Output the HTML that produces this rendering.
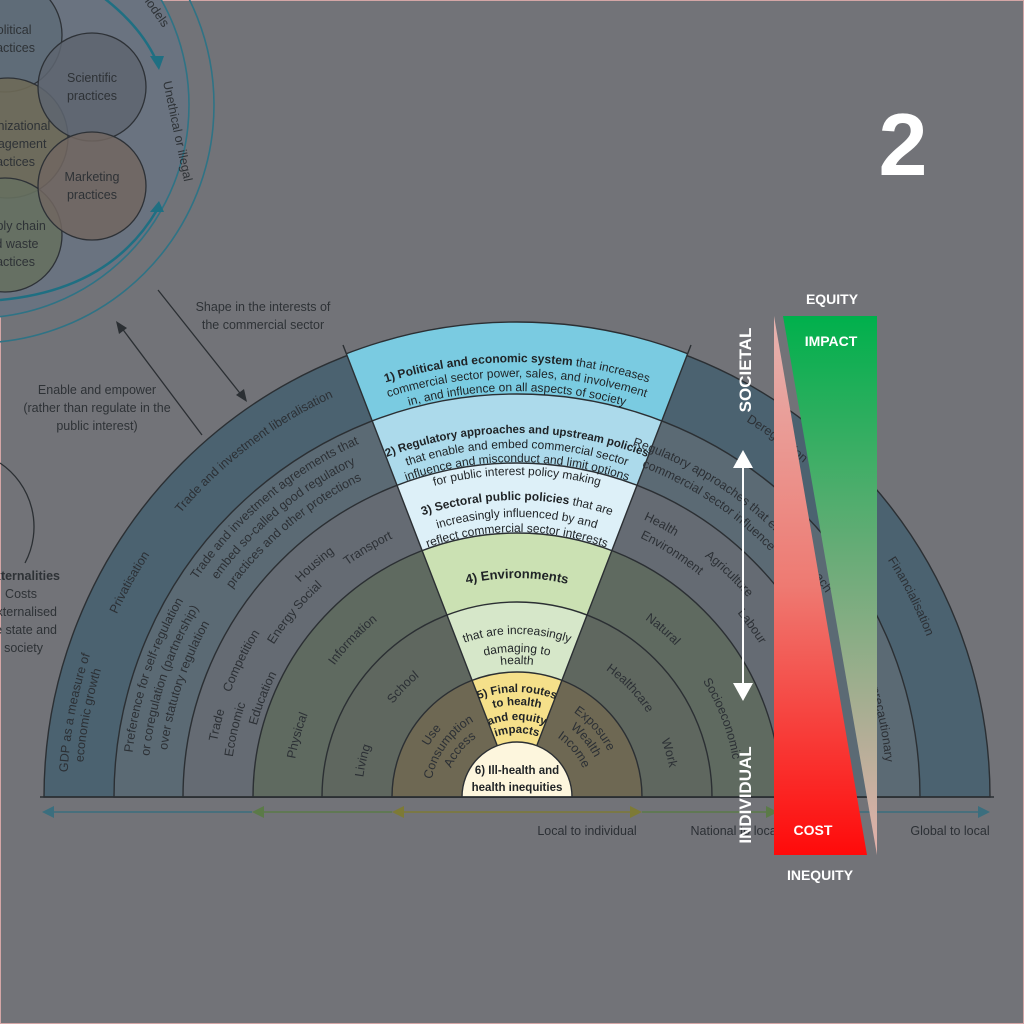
<!DOCTYPE html>
<html><head><meta charset="utf-8"><style>
html,body{margin:0;padding:0;background:#727378;width:1024px;height:1024px;overflow:hidden;}
svg{display:block;}
text{font-family:"Liberation Sans",sans-serif;}
</style></head><body>
<svg width="1024" height="1024" viewBox="0 0 1024 1024" xmlns="http://www.w3.org/2000/svg">
<defs>
<linearGradient id="gg" x1="0" y1="0" x2="0" y2="1"><stop offset="0" stop-color="#00b04c"/><stop offset="0.45" stop-color="#6aac78"/><stop offset="1" stop-color="#e3b0ab"/></linearGradient>
<linearGradient id="rg" x1="0" y1="0" x2="0" y2="1"><stop offset="0" stop-color="#e6b4b0"/><stop offset="0.5" stop-color="#ee7a72"/><stop offset="1" stop-color="#ff0a0a"/></linearGradient>
<clipPath id="wedge"><path d="M517,797 L343,345 A490 490 0 0 1 691,345 Z"/></clipPath>
</defs>
<rect x="0" y="0" width="1024" height="1024" fill="#727378" stroke="#d4a6a6" stroke-width="2"/>

<!-- top-left circles -->
<circle cx="-24" cy="105" r="238" fill="none" stroke="#2f7385" stroke-width="1.6"/>
<circle cx="-24" cy="105" r="213" fill="#6a7380" stroke="#2f7385" stroke-width="1.6"/>
<path d="M100,-5 Q140,25 156,60" fill="none" stroke="#1f6f82" stroke-width="2.5"/>
<polygon points="150,56 164,56 159,70" fill="#1f6f82"/>
<path d="M157,210 Q110,290 0,300" fill="none" stroke="#1f6f82" stroke-width="2.5"/>
<polygon points="150,212 164,212 159,201" fill="#1f6f82"/>
<circle cx="5" cy="35" r="57" fill="#5f6c78" stroke="#2d3136" stroke-width="1.3"/>
<circle cx="8" cy="138" r="60" fill="#6e6a58" fill-opacity="0.9" stroke="#2d3136" stroke-width="1.3"/>
<circle cx="5" cy="235" r="57" fill="#66705f" fill-opacity="0.9" stroke="#2d3136" stroke-width="1.3"/>
<circle cx="92" cy="87" r="54" fill="#5e6570" fill-opacity="0.85" stroke="#2d3136" stroke-width="1.3"/>
<circle cx="92" cy="186" r="54" fill="#716660" fill-opacity="0.85" stroke="#2d3136" stroke-width="1.3"/>
<g font-size="12.5" fill="#2e3236" text-anchor="middle">
<text x="92" y="82">Scientific</text><text x="92" y="100">practices</text>
<text x="92" y="181">Marketing</text><text x="92" y="199">practices</text>
<text x="10" y="34">Political</text><text x="10" y="52">practices</text>
<text x="10" y="130">Organizational</text><text x="10" y="148">management</text><text x="10" y="166">practices</text>
<text x="10" y="230">Supply chain</text><text x="10" y="248">and waste</text><text x="10" y="266">practices</text>
</g>
<text font-size="12.5" fill="#2e3236" transform="translate(163,82) rotate(78)">Unethical or illegal</text>
<text font-size="12.5" fill="#2e3236" transform="translate(140,-5) rotate(55)">models</text>

<!-- connectors -->
<line x1="158" y1="290" x2="243" y2="397" stroke="#2b2f33" stroke-width="1.3"/>
<polygon points="247,402 236,395 244,389" fill="#2b2f33"/>
<line x1="202" y1="435" x2="121" y2="327" stroke="#2b2f33" stroke-width="1.3"/>
<polygon points="116,321 127,328 119,334" fill="#2b2f33"/>
<g font-size="12.5" fill="#2e3236" text-anchor="middle">
<text x="263" y="311">Shape in the interests of</text><text x="263" y="329">the commercial sector</text>
<text x="97" y="394">Enable and empower</text><text x="97" y="412">(rather than regulate in the</text><text x="97" y="430">public interest)</text>
</g>
<path d="M0,463 A77 77 0 0 1 25,563" fill="none" stroke="#2b2f33" stroke-width="1.3"/>
<g font-size="12.5" fill="#2e3236" text-anchor="end">
<text x="60" y="580" font-weight="bold">Externalities</text>
<text x="37" y="598">Costs</text>
<text x="57" y="616">externalised</text>
<text x="57" y="634">to the state and</text>
<text x="43" y="652">society</text>
</g>

<!-- rings -->
<g stroke="#2b2f33" stroke-width="1.4">
<path d="M44,797 A473 473 0 0 1 990,797 Z" fill="#4b6270"/>
<path d="M114,797 A403 403 0 0 1 920,797 Z" fill="#5b6a74"/>
<path d="M183,797 A334 334 0 0 1 851,797 Z" fill="#656b73"/>
<path d="M253,797 A264 264 0 0 1 781,797 Z" fill="#5f6a60"/>
<path d="M322,797 A195 195 0 0 1 712,797 Z" fill="#5f675f"/>
<path d="M392,797 A125 125 0 0 1 642,797 Z" fill="#6e6853"/>
</g>
<!-- wedge -->
<g clip-path="url(#wedge)" stroke="#2b2f33" stroke-width="1.4">
<circle cx="517" cy="797" r="475" fill="#7acbe1"/>
<circle cx="517" cy="797" r="403" fill="#acdaeb"/>
<circle cx="517" cy="797" r="334" fill="#ddf0f8"/>
<circle cx="517" cy="797" r="264" fill="#cbe1b3"/>
<circle cx="517" cy="797" r="195" fill="#d6e7c9"/>
<circle cx="517" cy="797" r="125" fill="#f5e08a"/>
</g>
<path d="M517,797 L343,345 M517,797 L691,345" stroke="#2b2f33" stroke-width="1.4"/>
<path d="M462,797 A55 55 0 0 1 572,797 Z" fill="#fdf6dd" stroke="#2b2f33" stroke-width="1.4"/>
<line x1="40" y1="797" x2="994" y2="797" stroke="#2b2f33" stroke-width="1.4"/>

<defs>
<path id="r450" d="M67,797 A450 450 0 0 1 967,797"/>
<path id="r440" d="M77,797 A440 440 0 0 1 957,797"/>
<path id="r435" d="M82,797 A435 435 0 0 1 952,797"/>
<path id="r420" d="M97,797 A420 420 0 0 1 937,797"/>
<path id="r406" d="M111,797 A406 406 0 0 1 923,797"/>
<path id="r387" d="M130,797 A387 387 0 0 1 904,797"/>
<path id="r370" d="M147,797 A370 370 0 0 1 887,797"/>
<path id="r364" d="M153,797 A364 364 0 0 1 881,797"/>
<path id="r353" d="M164,797 A353 353 0 0 1 870,797"/>
<path id="r349" d="M168,797 A349 349 0 0 1 866,797"/>
<path id="r335" d="M182,797 A335 335 0 0 1 852,797"/>
<path id="r322" d="M195,797 A322 322 0 0 1 839,797"/>
<path id="r305" d="M212,797 A305 305 0 0 1 822,797"/>
<path id="r297" d="M220,797 A297 297 0 0 1 814,797"/>
<path id="r287" d="M230,797 A287 287 0 0 1 804,797"/>
<path id="r280" d="M237,797 A280 280 0 0 1 797,797"/>
<path id="r270" d="M247,797 A270 270 0 0 1 787,797"/>
<path id="r265" d="M252,797 A265 265 0 0 1 782,797"/>
<path id="r225" d="M292,797 A225 225 0 0 1 742,797"/>
<path id="r219" d="M298,797 A219 219 0 0 1 736,797"/>
<path id="r163" d="M354,797 A163 163 0 0 1 680,797"/>
<path id="r155" d="M362,797 A155 155 0 0 1 672,797"/>
<path id="r145" d="M372,797 A145 145 0 0 1 662,797"/>
<path id="r133" d="M384,797 A133 133 0 0 1 650,797"/>
<path id="r105" d="M412,797 A105 105 0 0 1 622,797"/>
<path id="r102" d="M415,797 A102 102 0 0 1 619,797"/>
<path id="r92" d="M425,797 A92 92 0 0 1 609,797"/>
<path id="r87" d="M430,797 A87 87 0 0 1 604,797"/>
<path id="r77" d="M440,797 A77 77 0 0 1 594,797"/>
<path id="r72" d="M445,797 A72 72 0 0 1 589,797"/>
<path id="r64" d="M453,797 A64 64 0 0 1 581,797"/>
</defs>

<!-- ring labels -->
<g font-size="12.5" fill="#2c3035" text-anchor="middle">
<text><textPath href="#r440" startOffset="29.3%">Trade and investment liberalisation</textPath></text>
<text><textPath href="#r440" startOffset="16.1%">Privatisation</textPath></text>
<text><textPath href="#r450" startOffset="6%">GDP as a measure of</textPath></text>
<text><textPath href="#r435" startOffset="6%">economic growth</textPath></text>
<text><textPath href="#r440" startOffset="85%">Financialisation</textPath></text>
<text><textPath href="#r440" startOffset="70%">Deregulation</textPath></text>
<text><textPath href="#r387" startOffset="10.3%">Preference for self-regulation</textPath></text>
<text><textPath href="#r370" startOffset="10.3%">or coregulation (partnership)</textPath></text>
<text><textPath href="#r353" startOffset="10.3%">over statutory regulation</textPath></text>
<text><textPath href="#r387" startOffset="27.8%">Trade and investment agreements that</textPath></text>
<text><textPath href="#r370" startOffset="27.8%">embed so-called good regulatory</textPath></text>
<text><textPath href="#r353" startOffset="27.8%">practices and other protections</textPath></text>
<text><textPath href="#r370" startOffset="68.5%">Regulatory approaches that embed</textPath></text>
<text><textPath href="#r353" startOffset="68.5%">commercial sector influence</textPath></text>
<text><textPath href="#r370" startOffset="78%">Risk approach</textPath></text>
<text><textPath href="#r370" startOffset="91%">rather than precautionary</textPath></text>
<text><textPath href="#r305" startOffset="7.5%">Trade</textPath></text>
<text><textPath href="#r287" startOffset="7.5%">Economic</textPath></text>
<text><textPath href="#r305" startOffset="14.6%">Competition</textPath></text>
<text><textPath href="#r270" startOffset="11.8%">Education</textPath></text>
<text><textPath href="#r287" startOffset="20%">Energy</textPath></text>
<text><textPath href="#r305" startOffset="27.2%">Housing</textPath></text>
<text><textPath href="#r287" startOffset="24.4%">Social</textPath></text>
<text><textPath href="#r287" startOffset="32.8%">Transport</textPath></text>
<text><textPath href="#r305" startOffset="65.5%">Health</textPath></text>
<text><textPath href="#r287" startOffset="68%">Environment</textPath></text>
<text><textPath href="#r305" startOffset="74.2%">Agriculture</textPath></text>
<text><textPath href="#r287" startOffset="80%">Labour</textPath></text>
<text><textPath href="#r225" startOffset="8.7%">Physical</textPath></text>
<text><textPath href="#r225" startOffset="24.3%">Information</textPath></text>
<text><textPath href="#r219" startOffset="72.8%">Natural</textPath></text>
<text><textPath href="#r219" startOffset="88.4%">Socioeconomic</textPath></text>
<text><textPath href="#r155" startOffset="7.4%">Living</textPath></text>
<text><textPath href="#r155" startOffset="24.4%">School</textPath></text>
<text><textPath href="#r155" startOffset="75.6%">Healthcare</textPath></text>
<text><textPath href="#r155" startOffset="91%">Work</textPath></text>
<text><textPath href="#r102" startOffset="20%">Use</textPath></text>
<text><textPath href="#r87" startOffset="20%">Consumption</textPath></text>
<text><textPath href="#r72" startOffset="22%">Access</textPath></text>
<text><textPath href="#r102" startOffset="77%">Exposure</textPath></text>
<text><textPath href="#r87" startOffset="78%">Wealth</textPath></text>
<text><textPath href="#r72" startOffset="78%">Income</textPath></text>
</g>

<!-- wedge text -->
<g font-size="12" fill="#1f2326" text-anchor="middle">
<text><textPath href="#r435" startOffset="50%"><tspan font-weight="bold">1) Political and economic system</tspan> that increases</textPath></text>
<text><textPath href="#r420" startOffset="50%">commercial sector power, sales, and involvement</textPath></text>
<text><textPath href="#r406" startOffset="50%">in, and influence on all aspects of society</textPath></text>
<text><textPath href="#r364" startOffset="50%" font-weight="bold" font-size="11.5">2) Regulatory approaches and upstream policies</textPath></text>
<text><textPath href="#r349" startOffset="50%">that enable and embed commercial sector</textPath></text>
<text><textPath href="#r335" startOffset="50%">influence and misconduct and limit options</textPath></text>
<text><textPath href="#r322" startOffset="50%">for public interest policy making</textPath></text>
<text><textPath href="#r297" startOffset="50%"><tspan font-weight="bold">3) Sectoral public policies</tspan> that are</textPath></text>
<text><textPath href="#r280" startOffset="50%">increasingly influenced by and</textPath></text>
<text><textPath href="#r265" startOffset="50%">reflect commercial sector interests</textPath></text>
<text><textPath href="#r219" startOffset="50%" font-weight="bold" font-size="13">4) Environments</textPath></text>
<text><textPath href="#r163" startOffset="50%">that are increasingly</textPath></text>
<text><textPath href="#r145" startOffset="50%">damaging to</textPath></text>
<text><textPath href="#r133" startOffset="50%">health</textPath></text>
</g>
<g font-size="11.5" fill="#1f2326" text-anchor="middle" font-weight="bold">
<text><textPath href="#r105" startOffset="50%">5) Final routes</textPath></text>
<text><textPath href="#r92" startOffset="50%">to health</textPath></text>
<text><textPath href="#r77" startOffset="50%">and equity</textPath></text>
<text><textPath href="#r64" startOffset="50%">impacts</textPath></text>
<text x="517" y="774">6) Ill-health and</text>
<text x="517" y="791">health inequities</text>
</g>

<!-- axis -->
<g stroke-width="1.6">
<line x1="48" y1="812" x2="252" y2="812" stroke="#3b6e7e"/>
<line x1="258" y1="812" x2="392" y2="812" stroke="#5b7a48"/>
<line x1="398" y1="812" x2="636" y2="812" stroke="#7d7a36"/>
<line x1="642" y1="812" x2="772" y2="812" stroke="#5b7a48"/>
<line x1="778" y1="812" x2="984" y2="812" stroke="#3b6e7e"/>
</g>
<polygon points="42,812 54,806 54,818" fill="#3b6e7e"/>
<polygon points="252,812 264,806 264,818" fill="#5b7a48"/>
<polygon points="392,812 404,806 404,818" fill="#7d7a36"/>
<polygon points="642,812 630,806 630,818" fill="#7d7a36"/>
<polygon points="778,812 766,806 766,818" fill="#5b7a48"/>
<polygon points="990,812 978,806 978,818" fill="#3b6e7e"/>
<g font-size="12.5" fill="#2c3035" text-anchor="middle">
<text x="587" y="835">Local to individual</text>
<text x="735" y="835">National to local</text>
<text x="950" y="835">Global to local</text>
</g>

<!-- right bars -->
<polygon points="774,316 774,855 867,855" fill="url(#rg)"/>
<polygon points="783,316 877,316 877,855" fill="url(#gg)"/>
<line x1="743" y1="465" x2="743" y2="688" stroke="#fff" stroke-width="2"/>
<polygon points="743,450 733,468 753,468" fill="#fff"/>
<polygon points="743,701 733,683 753,683" fill="#fff"/>
<g fill="#fff" font-weight="bold">
<text x="832" y="304" font-size="14" text-anchor="middle">EQUITY</text>
<text x="831" y="346" font-size="14" text-anchor="middle">IMPACT</text>
<text x="813" y="835" font-size="14" text-anchor="middle">COST</text>
<text x="820" y="880" font-size="14" text-anchor="middle">INEQUITY</text>
<text font-size="17" text-anchor="middle" transform="translate(751,370) rotate(-90)">SOCIETAL</text>
<text font-size="17" text-anchor="middle" transform="translate(751,795) rotate(-90)">INDIVIDUAL</text>
<text x="903" y="175" font-size="88" text-anchor="middle">2</text>
</g>
</svg>
</body></html>
